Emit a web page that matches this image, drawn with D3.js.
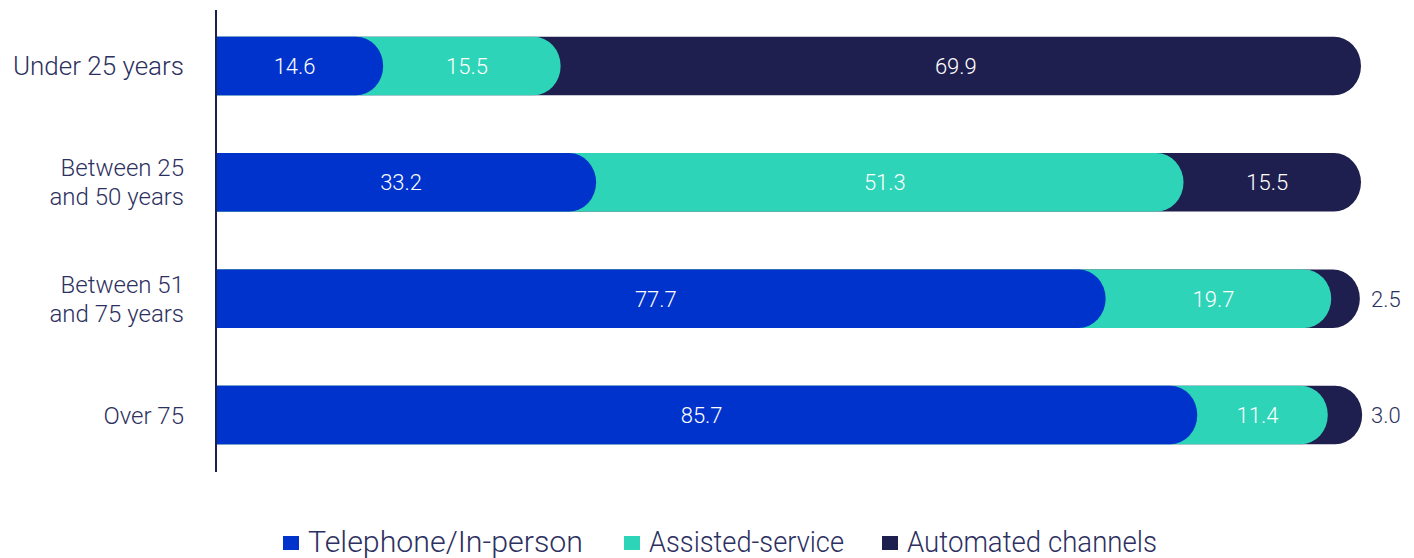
<!DOCTYPE html>
<html>
<head>
<meta charset="utf-8">
<script src="https://cdn.jsdelivr.net/npm/d3@7"></script>
<style>
  html, body { margin: 0; padding: 0; background: #ffffff; }
  svg { display: block; }
  text { font-family: Roboto, "Noto Sans", sans-serif; }
</style>
</head>
<body>
<svg id="chart" width="1414" height="558"></svg>
<script>
// ---- Data ----
const categories = [
  ["Under 25 years"],
  ["Between 25", "and 50 years"],
  ["Between 51", "and 75 years"],
  ["Over 75"]
];
const seriesNames = ["Telephone/In-person", "Assisted-service", "Automated channels"];
const telephoneInPerson = [14.6, 33.2, 77.7, 85.7];
const assistedService   = [15.5, 51.3, 19.7, 11.4];
const automatedChannels = [69.9, 15.5, 2.5, 3.0];
const colors = ["#0033cc", "#2dd4b7", "#1f1f4f"];

// ---- Build table ----
const keys = ["tel", "assist", "auto"];
const rows = categories.map((c, i) => ({
  id: i,
  label: c,
  tel: telephoneInPerson[i],
  assist: assistedService[i],
  auto: automatedChannels[i]
}));
const stacked = d3.stack().keys(keys)(rows);

const svg = d3.select("#chart");
const textColor = "#2d3060";

const x = d3.scaleLinear().domain([0, 100]).range([216, 1361]);
const y = d3.scaleBand()
  .domain(rows.map(r => r.id))
  .range([36.75, 444.25])
  .paddingInner(0.497)
  .paddingOuter(0);

const bw = y.bandwidth();
const rx = 27;

function capPath(x0, x1, y0, h) {
  const r = Math.min(rx, Math.max(0, x1 - x0));
  return `M${x0},${y0}H${x1 - r}A${r},${h/2} 0 0 1 ${x1},${y0 + h/2}A${r},${h/2} 0 0 1 ${x1 - r},${y0 + h}H${x0}Z`;
}

// draw from last series to first so earlier segments' caps overlap later ones
const layers = svg.append("g");
for (let k = stacked.length - 1; k >= 0; k--) {
  const s = stacked[k];
  layers.append("g")
    .selectAll("path")
    .data(s)
    .join("path")
    .attr("d", d => capPath(x(0), x(d[1]), y(d.data.id), bw))
    .attr("fill", colors[k]);
}

// value labels
const labels = svg.append("g");
stacked.forEach((s, k) => {
  s.forEach(d => {
    const v = d[1] - d[0];
    const cy = y(d.data.id) + bw / 2;
    const outside = v < 5;
    labels.append("text")
      .attr("x", outside ? x(100) + 10 : (x(d[0]) + x(d[1])) / 2 - 5)
      .attr("y", cy)
      .attr("dy", "0.36em")
      .attr("text-anchor", outside ? "start" : "middle")
      .attr("font-size", 22)
      .attr("font-weight", 300)
      .attr("fill", outside ? textColor : "#ffffff")
      .text(v.toFixed(1));
  });
});

// axis line
svg.append("line")
  .attr("x1", 216).attr("x2", 216)
  .attr("y1", 10).attr("y2", 472)
  .attr("stroke", "#1f1f4f")
  .attr("stroke-width", 2);

// category labels
const catG = svg.append("g");
rows.forEach(r => {
  const cy = y(r.id) + bw / 2;
  const lines = r.label;
  const lh = 29;
  const t = catG.append("text")
    .attr("text-anchor", "end")
    .attr("font-size", r.id === 0 ? 26 : 24)
    .attr("font-weight", 300)
    .attr("fill", textColor);
  lines.forEach((ln, i) => {
    t.append("tspan")
      .attr("x", 184)
      .attr("y", cy + (i - (lines.length - 1) / 2) * lh)
      .attr("dy", "0.36em")
      .text(ln);
  });
});

// legend
const legendX = [283, 624, 882];
const legendW = [275, 195, 250];
const lg = svg.append("g");
seriesNames.forEach((n, i) => {
  lg.append("rect")
    .attr("x", legendX[i]).attr("y", 536)
    .attr("width", 16).attr("height", 14)
    .attr("fill", colors[i]);
  lg.append("text")
    .attr("x", legendX[i] + 25)
    .attr("y", 552)
    .attr("font-size", 29)
    .attr("font-weight", 300)
    .attr("fill", textColor)
    .attr("textLength", legendW[i])
    .attr("lengthAdjust", "spacingAndGlyphs")
    .text(n);
});
</script>
</body>
</html>
